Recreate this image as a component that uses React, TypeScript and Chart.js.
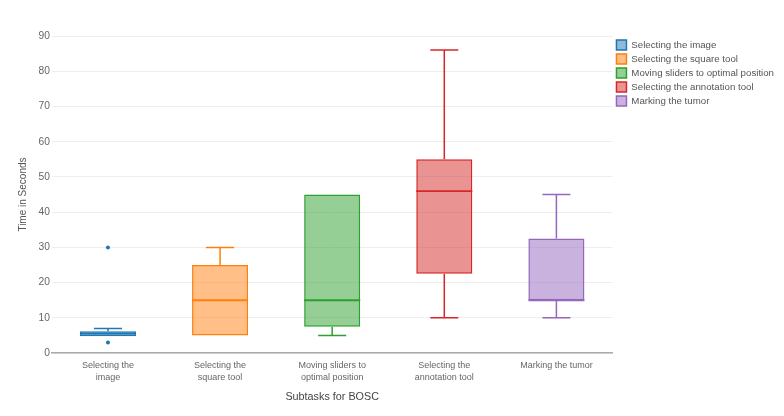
import React, { useEffect, useRef } from "react";
import { Chart, registerables } from "chart.js";

Chart.register(...registerables);

const categories = [
  "Selecting the image",
  "Selecting the square tool",
  "Moving sliders to optimal position",
  "Selecting the annotation tool",
  "Marking the tumor",
];
const tickLabels = [
  ["Selecting the", "image"],
  ["Selecting the", "square tool"],
  ["Moving sliders to", "optimal position"],
  ["Selecting the", "annotation tool"],
  ["Marking the tumor"],
];
const mins = [4.8, 5, 5, 10, 10];
const q1s = [4.8, 5, 7.5, 22.5, 15];
const medians = [5.5, 15, 15, 46, 15];
const q3s = [6.2, 25, 45, 55, 32.5];
const maxs = [7, 30, 45, 86, 45];
const outliers = [[3, 30], [], [], [], []];
const borderColors = ["#1f77b4", "#ff7f0e", "#2ca02c", "#d62728", "#9467bd"];
const fillColors = [
  "rgba(31,119,180,0.5)",
  "rgba(255,127,14,0.5)",
  "rgba(44,160,44,0.5)",
  "rgba(214,39,40,0.5)",
  "rgba(148,103,189,0.5)",
];
const yMin = 0;
const yMax = 90;
const yStep = 10;

const FONT = "'Liberation Sans', Arial, sans-serif";

const boxPlugin = {
  id: "boxWhiskers",
  afterDatasetsDraw(chart: any) {
    const ctx = chart.ctx;
    const y = chart.scales.y;
    categories.forEach((_, i) => {
      const meta = chart.getDatasetMeta(i);
      const el = meta.data[i];
      if (!el) return;
      const x = el.x;
      const w = el.width;
      const cap = w / 4;
      ctx.save();
      ctx.strokeStyle = borderColors[i];
      ctx.lineWidth = 1.5;
      ctx.beginPath();
      if (maxs[i] > q3s[i]) {
        ctx.moveTo(x, y.getPixelForValue(q3s[i]));
        ctx.lineTo(x, y.getPixelForValue(maxs[i]));
        ctx.moveTo(x - cap, y.getPixelForValue(maxs[i]));
        ctx.lineTo(x + cap, y.getPixelForValue(maxs[i]));
      }
      if (mins[i] < q1s[i]) {
        ctx.moveTo(x, y.getPixelForValue(q1s[i]));
        ctx.lineTo(x, y.getPixelForValue(mins[i]));
        ctx.moveTo(x - cap, y.getPixelForValue(mins[i]));
        ctx.lineTo(x + cap, y.getPixelForValue(mins[i]));
      }
      ctx.stroke();
      ctx.lineWidth = 1.8;
      ctx.beginPath();
      ctx.moveTo(x - w / 2, y.getPixelForValue(medians[i]));
      ctx.lineTo(x + w / 2, y.getPixelForValue(medians[i]));
      ctx.stroke();
      ctx.fillStyle = borderColors[i];
      outliers[i].forEach((v) => {
        ctx.beginPath();
        ctx.arc(x, y.getPixelForValue(v), 2, 0, Math.PI * 2);
        ctx.fill();
      });
      ctx.restore();
    });
  },
};

export default function App() {
  const ref = useRef<HTMLCanvasElement | null>(null);
  useEffect(() => {
    document.body.style.margin = "0";
    if (!ref.current) return;
    const datasets = categories.map((name, i) => ({
      label: name,
      data: categories.map((_, j) => (j === i ? [q1s[i], q3s[i]] : null)),
      backgroundColor: fillColors[i],
      borderColor: borderColors[i],
      borderWidth: 1.5,
      borderSkipped: false,
      grouped: false,
      barPercentage: 0.5,
      categoryPercentage: 1,
    }));
    const chart = new Chart(ref.current, {
      type: "bar",
      data: { labels: tickLabels as any, datasets: datasets as any },
      options: {
        animation: false,
        responsive: false,
        maintainAspectRatio: false,
        layout: { padding: { top: 36, left: 17, right: 0, bottom: 12 } },
        plugins: {
          tooltip: { enabled: false },
          legend: {
            position: "right",
            align: "start",
            labels: {
              boxWidth: 10,
              boxHeight: 10,
              padding: 4,
              color: "#555",
              font: { family: FONT, size: 9.7 },
            },
          },
        },
        scales: {
          x: {
            grid: { display: false, drawTicks: false, tickLength: 0 },
            border: { display: true, color: "#aaa", width: 1.5 },
            ticks: {
              color: "#666",
              font: { family: FONT, size: 9, lineHeight: 1.33 },
              padding: 6,
              maxRotation: 0,
            },
            title: {
              display: true,
              text: "Subtasks for BOSC",
              color: "#444",
              font: { family: FONT, size: 10.8 },
              padding: { top: 2, bottom: 0 },
            },
          },
          y: {
            min: yMin,
            max: yMax,
            border: { display: false },
            grid: { color: "#eeeeee", drawTicks: false, tickLength: 0 },
            ticks: { stepSize: yStep, color: "#666", font: { family: FONT, size: 10.25 }, padding: 2 },
            title: {
              display: true,
              text: "Time in Seconds",
              color: "#555",
              font: { family: FONT, size: 10 },
              padding: { top: 0, bottom: 7.5 },
            },
          },
        },
      },
      plugins: [boxPlugin],
    });
    return () => chart.destroy();
  }, []);
  return (
    <div style={{ width: 784, height: 416 }}>
      <canvas ref={ref} width={784} height={416} style={{ width: 784, height: 416, display: "block" }} />
    </div>
  );
}
